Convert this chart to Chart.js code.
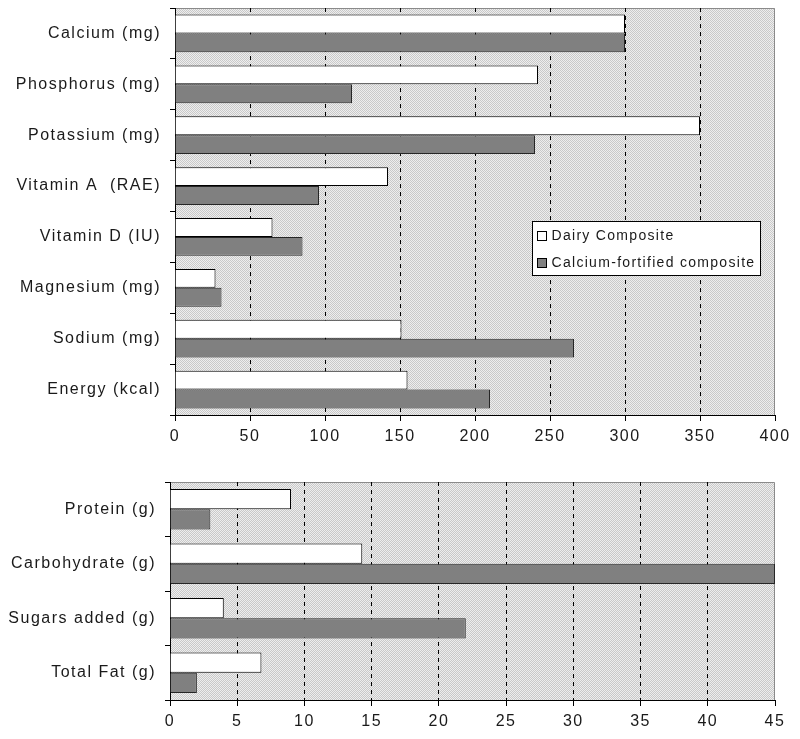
<!DOCTYPE html>
<html><head><meta charset="utf-8">
<script src="https://cdn.jsdelivr.net/npm/chart.js@4.4.1/dist/chart.umd.min.js"></script>
<style>
html,body{margin:0;padding:0;background:#fff;width:800px;height:739px;overflow:hidden}
#w1{position:absolute;left:0;top:0;width:800px;height:455px}
#w2{position:absolute;left:0;top:465px;width:800px;height:274px}
</style>
</head><body>
<div id="w1"><canvas id="c1" width="800" height="455"></canvas></div>
<div id="w2"><canvas id="c2" width="800" height="274"></canvas></div>
<script>
const seriesNames = ['Dairy Composite', 'Calcium-fortified composite'];

const topCategories = ['Calcium (mg)', 'Phosphorus (mg)', 'Potassium (mg)', 'Vitamin A  (RAE)', 'Vitamin D (IU)', 'Magnesium (mg)', 'Sodium (mg)', 'Energy (kcal)'];
const topDairy      = [300, 242, 350, 142, 65, 27, 151, 155];
const topFortified  = [300, 118, 240, 96, 85, 31, 266, 210];
const topTicks = { min: 0, max: 400, step: 50 };

const bottomCategories = ['Protein (g)', 'Carbohydrate (g)', 'Sugars added (g)', 'Total Fat (g)'];
const bottomDairy      = [9, 14.3, 4, 6.8];
const bottomFortified  = [3, 45, 22, 2];
const bottomTicks = { min: 0, max: 45, step: 5 };

const FONT = 'Liberation Sans, Arial, sans-serif';
const SPACING = '1.5px';
const TEXT = '#1a1a1a';

function makePattern(ctx) {
  const p = document.createElement('canvas');
  p.width = 2; p.height = 2;
  const g = p.getContext('2d');
  g.fillStyle = '#eeeeee'; g.fillRect(0, 0, 2, 2);
  g.fillStyle = '#c9c9c9';
  g.fillRect(0, 0, 1, 1); g.fillRect(1, 1, 1, 1);
  return ctx.createPattern(p, 'repeat');
}

const spacingPlugin = {
  id: 'spacing',
  beforeLayout(chart) { chart.ctx.letterSpacing = SPACING; },
  beforeDraw(chart) { chart.ctx.letterSpacing = SPACING; }
};

const bgPlugin = {
  id: 'bg',
  beforeDraw(chart) {
    const { left, top, width, height } = chart.chartArea;
    const ctx = chart.ctx;
    ctx.save();
    ctx.fillStyle = makePattern(ctx);
    ctx.fillRect(left, top, width, height);
    ctx.strokeStyle = '#8a8a8a';
    ctx.lineWidth = 1;
    ctx.beginPath();
    ctx.moveTo(left, top + 0.5);
    ctx.lineTo(left + width - 0.5, top + 0.5);
    ctx.lineTo(left + width - 0.5, top + height);
    ctx.stroke();
    ctx.restore();
  }
};

const legendPlugin = {
  id: 'boxLegend',
  afterDraw(chart, args, opts) {
    if (!opts.show) return;
    const ca = chart.chartArea;
    const ctx = chart.ctx;
    const x0 = Math.round(ca.left + ca.width * 0.595) + 0.5;
    const x1 = Math.round(ca.left + ca.width * 0.975) + 0.5;
    const y0 = Math.round(ca.top + ca.height * 0.524) + 0.5;
    const y1 = Math.round(ca.top + ca.height * 0.657) + 0.5;
    ctx.save();
    ctx.letterSpacing = '1.3px';
    ctx.fillStyle = '#fff';
    ctx.fillRect(x0, y0, x1 - x0, y1 - y0);
    ctx.strokeStyle = '#000';
    ctx.lineWidth = 1;
    ctx.strokeRect(x0, y0, x1 - x0, y1 - y0);
    const ds = chart.data.datasets;
    const rowH = (y1 - y0) / ds.length;
    ctx.font = '14px ' + FONT;
    ctx.textBaseline = 'middle';
    ds.forEach((d, i) => {
      const cy = y0 + rowH * (i + 0.5);
      ctx.fillStyle = d.backgroundColor;
      ctx.fillRect(x0 + 5, Math.round(cy - 4) + 0.5, 9, 9);
      ctx.strokeStyle = '#000';
      ctx.strokeRect(x0 + 5, Math.round(cy - 4) + 0.5, 9, 9);
      ctx.fillStyle = TEXT;
      ctx.fillText(d.label, x0 + 19, cy + 1);
    });
    ctx.restore();
  }
};

function buildChart(canvasId, cats, dairy, fort, tk, yWidth, padTop, xHeight, showLegend) {
  const nTicks = Math.round((tk.max - tk.min) / tk.step);
  return new Chart(document.getElementById(canvasId), {
    type: 'bar',
    data: {
      labels: cats,
      datasets: [
        { label: seriesNames[0], data: dairy, backgroundColor: '#ffffff', borderColor: '#000000', borderWidth: 1,
          categoryPercentage: 0.74, barPercentage: 1.0 },
        { label: seriesNames[1], data: fort, backgroundColor: '#808080', borderColor: '#262626', borderWidth: 1,
          categoryPercentage: 0.74, barPercentage: 1.0 }
      ]
    },
    options: {
      indexAxis: 'y',
      responsive: false,
      animation: false,
      devicePixelRatio: 1,
      layout: { padding: { top: padTop, right: 25, left: 0, bottom: 0 } },
      plugins: {
        legend: { display: false },
        tooltip: { enabled: false },
        boxLegend: { show: showLegend }
      },
      scales: {
        x: {
          min: tk.min, max: tk.max,
          afterFit(s) { s.height = xHeight; s.paddingLeft = 0; s.paddingRight = 0; },
          ticks: { stepSize: tk.step, color: TEXT, font: { family: FONT, size: 16 }, padding: 6, maxRotation: 0 },
          grid: {
            color: c => (c.index === 0 || c.index === nTicks) ? 'rgba(0,0,0,0)' : '#000',
            lineWidth: 1, tickColor: '#000', tickLength: 6, tickBorderDash: [], drawTicks: true
          },
          border: { display: true, color: '#000', width: 1, dash: [4, 4] }
        },
        y: {
          afterFit(s) { s.width = yWidth; s.paddingTop = 0; s.paddingBottom = 0; },
          ticks: { color: TEXT, font: { family: FONT, size: 16 }, padding: 9 },
          grid: { drawOnChartArea: false, color: '#000', tickColor: '#000', tickLength: 5 },
          border: { display: true, color: '#000', width: 1 }
        }
      }
    },
    plugins: [spacingPlugin, bgPlugin, legendPlugin]
  });
}

buildChart('c1', topCategories, topDairy, topFortified, topTicks, 175, 8, 40, true);
buildChart('c2', bottomCategories, bottomDairy, bottomFortified, bottomTicks, 170, 17, 39, false);
</script>
</body></html>
